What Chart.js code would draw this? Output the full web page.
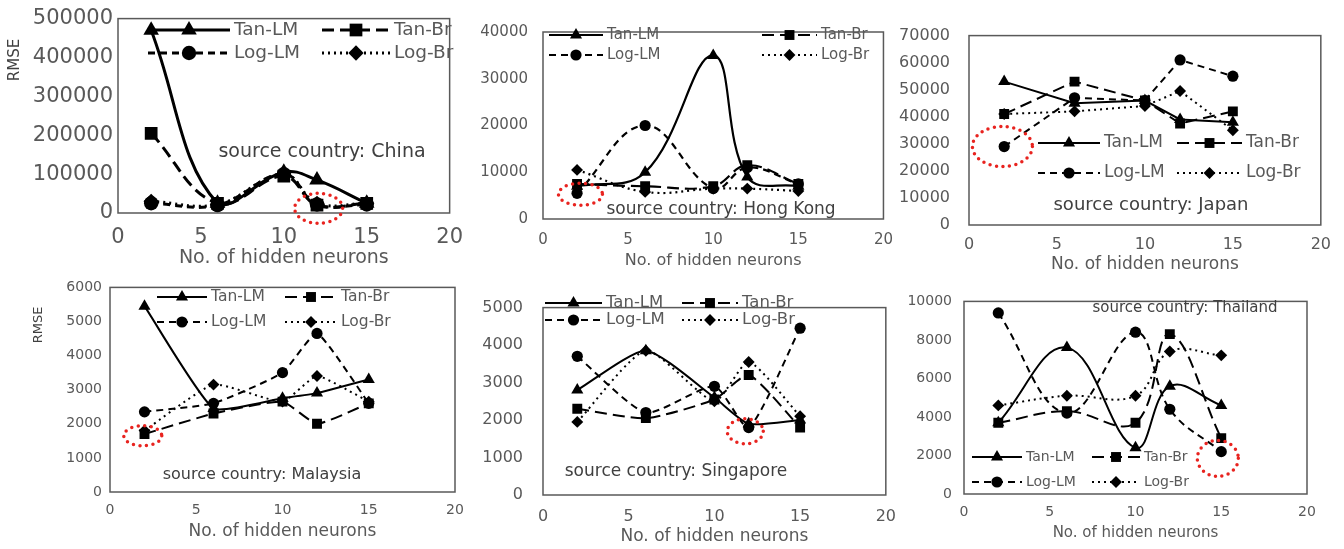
<!DOCTYPE html>
<html lang="en">
<head>
<meta charset="UTF-8">
<script src="https://cdn.jsdelivr.net/npm/chart.js"></script>
<title>RMSE vs hidden neurons</title>
<style>
  body { margin: 0; background: #fff; width: 1344px; height: 549px; overflow: hidden; position: relative; }
  canvas { position: absolute; }
</style>
</head>
<body>
<script>
// x values shared by every panel
const neurons = [2, 6, 10, 12, 15];
const seriesNames = ['Tan-LM', 'Tan-Br', 'Log-LM', 'Log-Br'];
const countries = ['China', 'Hong Kong', 'Japan', 'Malaysia', 'Singapore', 'Thailand'];

// RMSE
const chinaTanLM = [470000, 25000, 105000, 85000, 25000];
const chinaTanBr = [205000, 25000, 95000, 20000, 25000];
const chinaLogLM = [25000, 20000, 100000, 22000, 22000];
const chinaLogBr = [30000, 22000, 100000, 25000, 25000];

const hkTanLM = [7000, 10000, 35000, 9000, 7000];
const hkTanBr = [7500, 7000, 7000, 11500, 7500];
const hkLogLM = [5500, 20000, 6500, 11000, 7500];
const hkLogBr = [10500, 5800, 6500, 6500, 6000];

const jpTanLM = [53000, 45000, 46000, 39000, 38000];
const jpTanBr = [41000, 53000, 46000, 37500, 42000];
const jpLogLM = [29000, 47000, 46000, 61000, 55000];
const jpLogBr = [41000, 42000, 44000, 49500, 35000];

const myTanLM = [5450, 2450, 2750, 2900, 3300];
const myTanBr = [1700, 2300, 2650, 2000, 2600];
const myLogLM = [2350, 2600, 3500, 4650, 2600];
const myLogBr = [1800, 3150, 2650, 3400, 2650];

const sgTanLM = [2800, 3850, 2600, 1900, 2000];
const sgTanBr = [2300, 2050, 2550, 3200, 1800];
const sgLogLM = [3700, 2200, 2900, 1800, 4450];
const sgLogBr = [1950, 3850, 2500, 3550, 2100];

const thTanLM = [3700, 7600, 2400, 5600, 4600];
const thTanBr = [3700, 4300, 3700, 8300, 2900];
const thLogLM = [9400, 4200, 8400, 4400, 2200];
const thLogBr = [4600, 5100, 5100, 7400, 7200];

// y axis ranges / ticks
const yMax = [500000, 40000, 70000, 6000, 5000, 10000];
const yStep = [100000, 10000, 10000, 1000, 1000, 2000];

// circled best result in each panel
const bestX = [12.1, 2.2, 1.9, 1.9, 11.8, 14.8];
const bestY = [12000, 5300, 29000, 1650, 1700, 1850];

const values = [
  [chinaTanLM, chinaTanBr, chinaLogLM, chinaLogBr],
  [hkTanLM, hkTanBr, hkLogLM, hkLogBr],
  [jpTanLM, jpTanBr, jpLogLM, jpLogBr],
  [myTanLM, myTanBr, myLogLM, myLogBr],
  [sgTanLM, sgTanBr, sgLogLM, sgLogBr],
  [thTanLM, thTanBr, thLogLM, thLogBr]
];

const styles = [
  { dash: [], point: 'triangle', k: 1 },
  { dash: [12, 6], point: 'rect', k: 1 },
  { dash: [7, 5], point: 'circle', k: 0.8 },
  { dash: [2, 4], point: 'rectRot', k: 0.85 }
];

// layout of each panel on the page (px)
const panels = [
  { left: 0, top: 1, width: 475, height: 268, axisW: 118, xH: 56, tick: 21, title: 19, leg: 18.5, noteSize: 19,
    lw: 3, ms: 9, tension: 0.4, yPad: 5, xPad: 12, ring: [24, 15],
    cols: [[148, 230], [322, 390]], rows: [30, 53], note: [322, 152], rmse: [15, 60, 15] },
  { left: 475, top: 8, width: 430, height: 262, axisW: 68, xH: 51, tick: 15, title: 16, leg: 15, noteSize: 17,
    lw: 2.2, ms: 7, tension: 0.4, yPad: 15, xPad: 12, ring: [22, 11],
    cols: [[549, 603], [762, 817]], rows: [35, 55], note: [721, 210] },
  { left: 897, top: 7, width: 444, height: 268, axisW: 72, xH: 50, tick: 16, title: 17, leg: 17, noteSize: 18,
    lw: 2, ms: 7, tension: 0, yPad: 19, xPad: 10, ring: [30, 20],
    cols: [[1038, 1100], [1177, 1242]], rows: [143, 173], note: [1151, 205] },
  { left: 0, top: 271, width: 475, height: 271, axisW: 110, xH: 50, tick: 14, title: 17, leg: 15.5, noteSize: 16,
    lw: 2, ms: 7, tension: 0.15, yPad: 8, xPad: 10, ring: [19, 10],
    cols: [[157, 207], [285, 337]], rows: [297, 322], note: [262, 475], rmse: [39, 325, 13] },
  { left: 475, top: 278, width: 433, height: 269, axisW: 68, xH: 52, tick: 16, title: 17, leg: 16.5, noteSize: 17,
    lw: 2, ms: 7, tension: 0.2, yPad: 20, xPad: 12, ring: [18, 12.5],
    cols: [[545, 602], [682, 738]], rows: [303, 320], note: [676, 472] },
  { left: 900, top: 281, width: 427, height: 261, axisW: 64, xH: 48, tick: 14, title: 15, leg: 14, noteSize: 15,
    lw: 2, ms: 7, tension: 0.4, yPad: 12, xPad: 10, ring: [20.5, 18],
    cols: [[972, 1022], [1092, 1140]], rows: [457, 482], note: [1185, 308] }
];

const FONT = "'DejaVu Sans', sans-serif";
Chart.defaults.font.family = FONT;

function drawMarker(ctx, style, x, y, r) {
  ctx.beginPath();
  if (style === 'circle') {
    ctx.arc(x, y, r, 0, Math.PI * 2);
  } else if (style === 'triangle') {
    ctx.moveTo(x, y - r);
    ctx.lineTo(x + 0.866 * r, y + 0.5 * r);
    ctx.lineTo(x - 0.866 * r, y + 0.5 * r);
    ctx.closePath();
  } else if (style === 'rect') {
    const s = r * Math.SQRT1_2;
    ctx.rect(x - s, y - s, 2 * s, 2 * s);
  } else {
    ctx.moveTo(x - r, y); ctx.lineTo(x, y - r); ctx.lineTo(x + r, y); ctx.lineTo(x, y + r);
    ctx.closePath();
  }
  ctx.fill();
}

function makeExtras(p, k) {
  return {
    id: 'extras' + k,
    afterDatasetsDraw(chart) {
      const ctx = chart.ctx, a = chart.chartArea;
      const ox = p.left, oy = p.top;
      ctx.save();
      // plot frame
      ctx.setLineDash([]);
      ctx.strokeStyle = '#595959';
      ctx.lineWidth = 1.5;
      ctx.strokeRect(a.left, a.top, a.right - a.left, a.bottom - a.top);

      // red dotted ring round the best result
      const cx = chart.scales.x.getPixelForValue(bestX[k]);
      const cy = chart.scales.y.getPixelForValue(bestY[k]);
      ctx.strokeStyle = '#e8231f';
      ctx.lineWidth = 3.5;
      ctx.lineCap = 'round';
      ctx.setLineDash([0, 6.5]);
      ctx.beginPath();
      ctx.ellipse(cx, cy, p.ring[0], p.ring[1], 0, 0, Math.PI * 2);
      ctx.stroke();
      ctx.lineCap = 'butt';

      // legend inside the plot
      ctx.font = p.leg + 'px ' + FONT;
      ctx.textBaseline = 'middle';
      ctx.textAlign = 'left';
      chart.data.datasets.forEach((ds, i) => {
        const c = p.cols[i % 2], y = p.rows[Math.floor(i / 2)] - oy;
        const x0 = c[0] - ox, x1 = c[1] - ox;
        ctx.strokeStyle = '#000';
        ctx.lineWidth = ds.borderWidth;
        ctx.setLineDash(ds.borderDash);
        ctx.beginPath(); ctx.moveTo(x0, y); ctx.lineTo(x1, y); ctx.stroke();
        ctx.setLineDash([]);
        ctx.fillStyle = '#000';
        drawMarker(ctx, ds.pointStyle, (x0 + x1) / 2, y, ds.pointRadius);
        ctx.fillStyle = '#595959';
        ctx.fillText(ds.label, x1 + 4, y);
      });

      // country label
      ctx.fillStyle = '#404040';
      ctx.textAlign = 'center';
      ctx.font = p.noteSize + 'px ' + FONT;
      ctx.fillText('source country: ' + countries[k], p.note[0] - ox, p.note[1] - oy);

      if (p.rmse) {
        ctx.translate(p.rmse[0] - ox, p.rmse[1] - oy);
        ctx.rotate(-Math.PI / 2);
        ctx.font = p.rmse[2] + 'px ' + FONT;
        ctx.fillText('RMSE', 0, 0);
      }
      ctx.restore();
    }
  };
}

panels.forEach((p, k) => {
  const cv = document.createElement('canvas');
  cv.width = p.width;
  cv.height = p.height;
  cv.style.left = p.left + 'px';
  cv.style.top = p.top + 'px';
  document.body.appendChild(cv);

  new Chart(cv, {
    type: 'scatter',
    data: {
      datasets: seriesNames.map((name, i) => ({
        label: name,
        data: neurons.map((n, j) => ({ x: n, y: values[k][i][j] })),
        showLine: true,
        borderColor: '#000',
        backgroundColor: '#000',
        borderWidth: p.lw,
        borderDash: styles[i].dash,
        pointStyle: styles[i].point,
        pointRadius: p.ms * styles[i].k,
        pointBorderWidth: 0,
        tension: p.tension
      }))
    },
    options: {
      responsive: false,
      animation: false,
      layout: { padding: { top: 14, right: 20, left: 0, bottom: 0 } },
      plugins: { legend: { display: false }, tooltip: { enabled: false } },
      scales: {
        x: {
          type: 'linear', min: 0, max: 20,
          ticks: { stepSize: 5, padding: p.xPad, color: '#595959', font: { size: p.tick } },
          grid: { display: false, drawTicks: false },
          border: { display: false },
          title: { display: true, text: 'No. of hidden neurons', color: '#595959', font: { size: p.title }, padding: 0 },
          afterFit: s => { s.height = p.xH; }
        },
        y: {
          min: 0, max: yMax[k],
          ticks: { stepSize: yStep[k], padding: p.yPad, color: '#595959', font: { size: p.tick }, callback: v => String(v) },
          grid: { display: false, drawTicks: false },
          border: { display: false },
          afterFit: s => { s.width = p.axisW; }
        }
      }
    },
    plugins: [makeExtras(p, k)]
  });
});
</script>
</body>
</html>
